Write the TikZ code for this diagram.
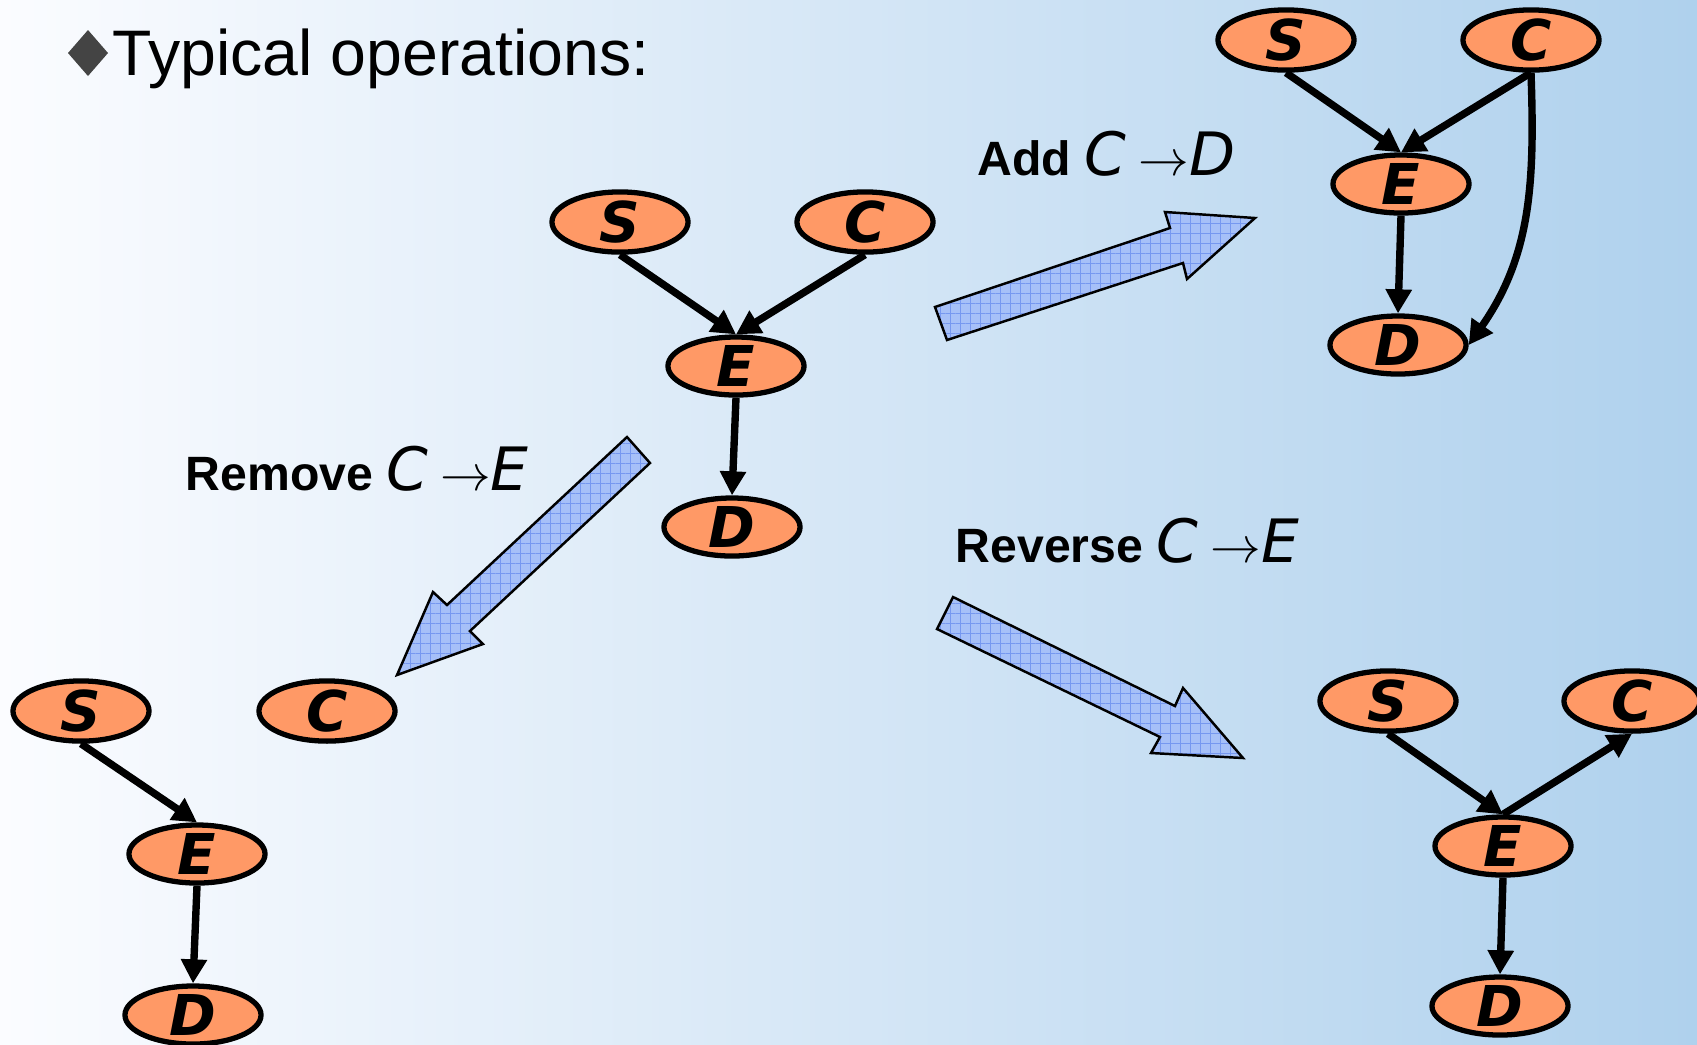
\documentclass[tikz,border=0pt]{standalone}
\usepackage{fontspec}
\setmainfont{Liberation Sans}
\newfontfamily\varfont{DejaVu Sans}
\usetikzlibrary{shapes.geometric,arrows.meta,patterns.meta}

\definecolor{bgleft}{RGB}{251,252,255}
\definecolor{bgright}{RGB}{175,209,237}
\definecolor{nodeorange}{RGB}{255,153,102}
\definecolor{blockblue}{RGB}{166,192,248}
\definecolor{gridblue}{RGB}{118,152,240}
\definecolor{bulletgray}{RGB}{68,68,68}

\tikzset{
	rv/.style={ellipse, draw, fill=nodeorange, line width=1.5pt, inner sep=0pt,
		minimum width=1.36cm, minimum height=0.58cm,
		font=\varfont\bfseries\itshape\fontsize{16}{18}\selectfont},
	link/.style={line width=2.1pt, ->},
	bigarrow/.style={draw, line width=0.7pt, preaction={fill=blockblue},
		pattern={Hatch[distance=0.1cm, line width=0.35pt]}, pattern color=gridblue},
	oplabel/.style={anchor=base west, inner sep=0pt, font=\bfseries\fontsize{13.7}{16}\selectfont}
}
\newcommand{\opvar}[1]{{\varfont\mdseries\itshape\fontsize{17}{18}\selectfont #1}}

\begin{document}
\begin{tikzpicture}[x=0.01cm, y=-0.01cm, >={Triangle[length=0.24cm,width=0.25cm]}]
	\clip (0,0) rectangle (1697,1044);
	\fill[left color=bgleft, right color=bgright] (0,0) rectangle (1697,1044);

	% TITLE
	\fill[bulletgray] (68,53) -- (88,30) -- (108,53) -- (88,76) -- cycle;
	\node[anchor=base west, inner sep=0pt, font=\fontsize{18.3}{22}\selectfont] (title) at (112,75) {Typical operations:};

	% START
	\begin{scope}[shift={(736,366)}]
		\node[rv] (e0) at (0,0) {E};
		\node[rv] (s0) at (-116,-144) {S};
		\node[rv] (c0) at (129,-144) {C};
		\node[rv] (d0) at (-4,161) {D};
		\draw[link] (s0.south) -- (e0.north);
		\draw[link] (c0.south) -- (e0.north);
		\draw[link] (e0.south) -- (d0.north);
	\end{scope}

	% ADD C -> D
	\draw[bigarrow] (935,307) -- (1170,228) -- (1165,212) -- (1255,218) -- (1187,279) -- (1183,263) -- (947,340) -- cycle;
	\node[oplabel] (addlabel) at (977,175) {Add \opvar{C}\hspace{0.12cm}$\rightarrow$\opvar{D}};
	\begin{scope}[shift={(1401,184)}]
		\node[rv] (e1) at (0,0) {E};
		\node[rv] (s1) at (-115,-144) {S};
		\node[rv] (c1) at (130,-144) {C};
		\node[rv] (d1) at (-3,161) {D};
		\draw[link] (s1.south) -- (e1.north);
		\draw[link] (c1.south) -- (e1.north);
		\draw[link] (e1.south) -- (d1.north);
		\draw[link] (c1.south) to[out=-88,in=55] (d1.east);
	\end{scope}

	% REMOVE C -> E
	\draw[bigarrow] (627,437) -- (447,605) -- (433,592) -- (397,675) -- (483,644) -- (470,631) -- (650,463) -- cycle;
	\node[oplabel] (remlabel) at (185,490) {Remove \opvar{C}\hspace{0.12cm}$\rightarrow$\opvar{E}};
	\begin{scope}[shift={(197,854)}]
		\node[rv] (e2) at (0,0) {E};
		\node[rv] (s2) at (-116,-143) {S};
		\node[rv] (c2) at (130,-143) {C};
		\node[rv] (d2) at (-4,161) {D};
		\draw[link] (s2.south) -- (e2.north);
		\draw[link] (e2.south) -- (d2.north);
	\end{scope}

	% REVERSE C -> E
	\draw[bigarrow] (953,597) -- (1175,706) -- (1183,688) -- (1243,758) -- (1151,753) -- (1160,737) -- (937,629) -- cycle;
	\node[oplabel] (revlabel) at (955,562) {Reverse \opvar{C}\hspace{0.12cm}$\rightarrow$\opvar{E}};
	\begin{scope}[shift={(1503,846)}]
		\node[rv] (e3) at (0,0) {E};
		\node[rv] (s3) at (-115,-145) {S};
		\node[rv] (c3) at (129,-145) {C};
		\node[rv] (d3) at (-3,160) {D};
		\draw[link] (s3.south) -- (e3.north);
		\draw[link] (e3.north) -- (c3.south);
		\draw[link] (e3.south) -- (d3.north);
	\end{scope}
\end{tikzpicture}
\end{document}
